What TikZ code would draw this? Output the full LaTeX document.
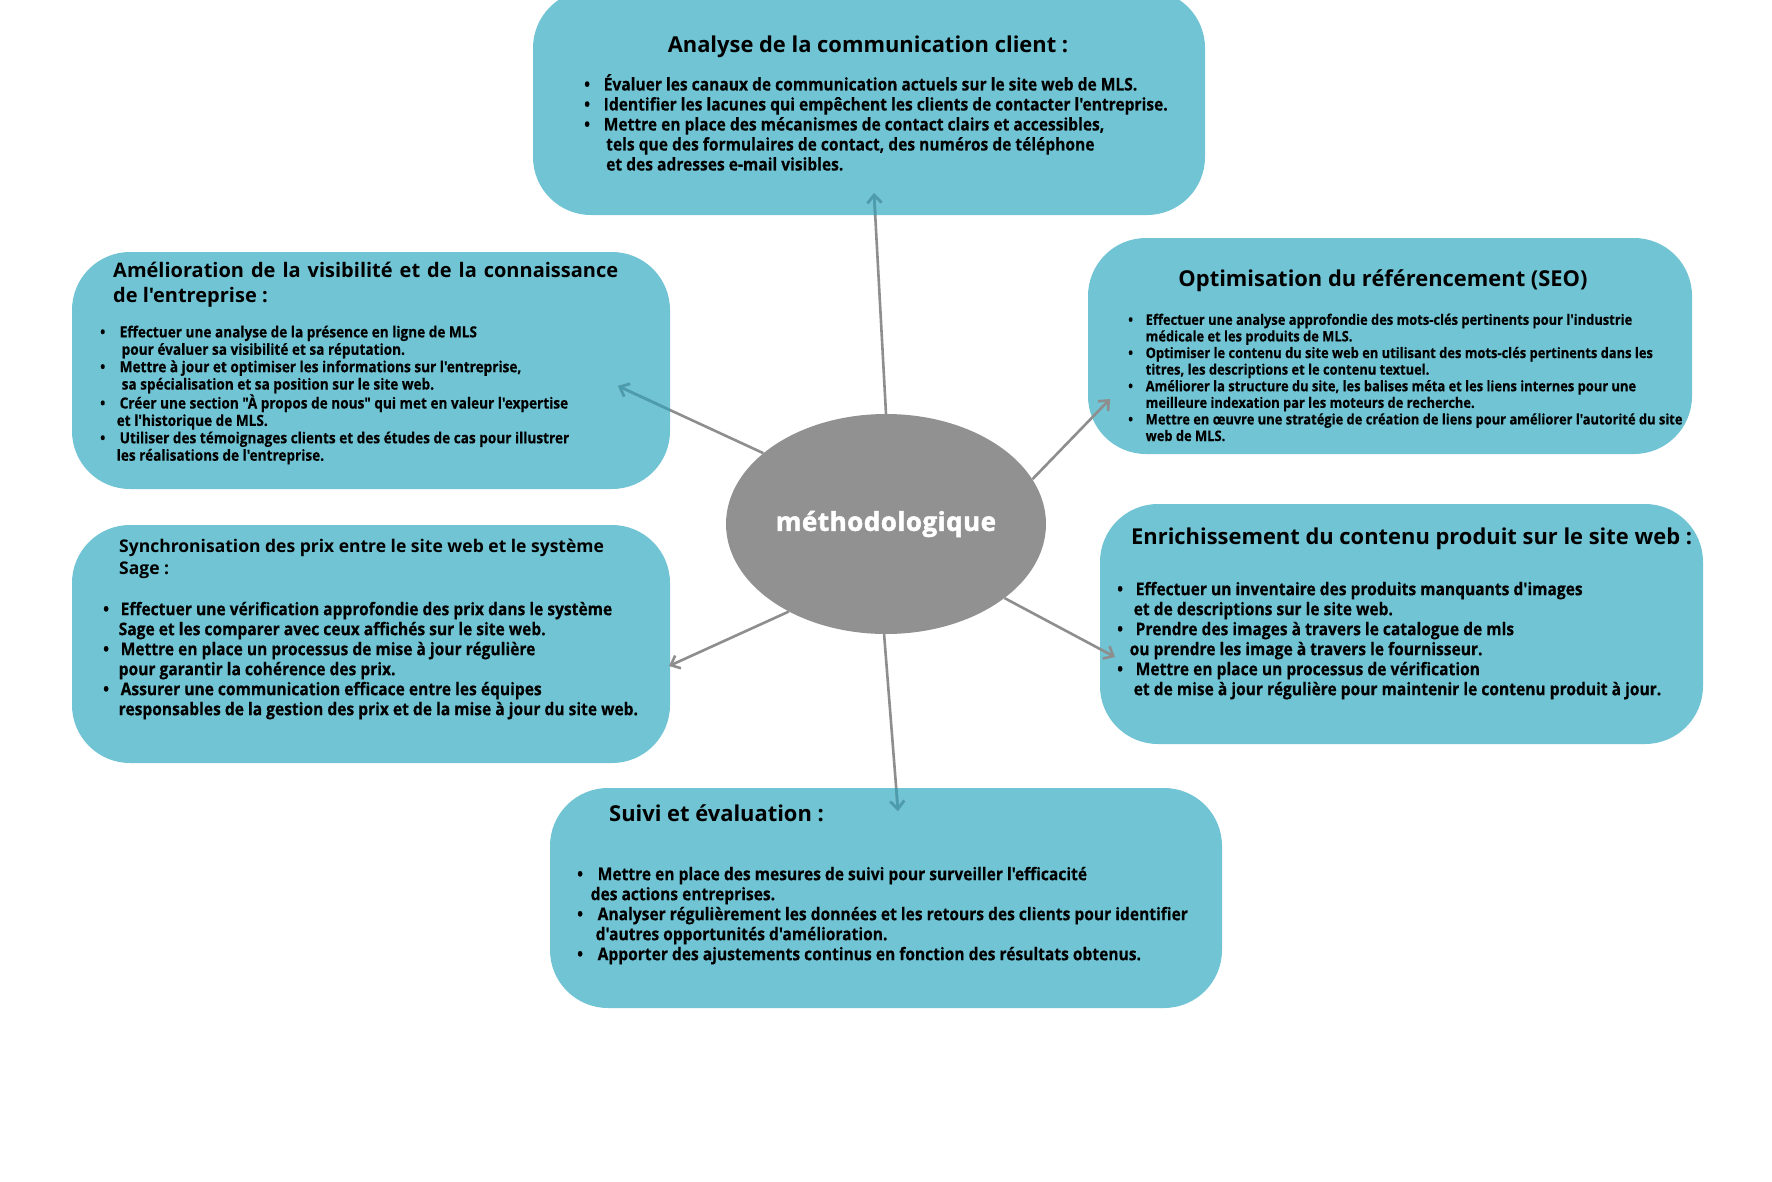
\documentclass[tikz,border=0pt]{standalone}
\usepackage{fontspec}
\setmainfont{Open Sans}[Ligatures=TeXOff]
\newfontfamily\condfont{Open Sans}[FakeStretch=0.89,FakeBold=0.4,Ligatures=TeXOff]
\newfontfamily\ellfont{Open Sans}[FakeBold=2,LetterSpace=2,Ligatures=TeXOff]
\usetikzlibrary{arrows.meta,shapes.geometric}
\definecolor{boxteal}{HTML}{70C4D4}
\definecolor{ellgray}{HTML}{919191}
\definecolor{arrgray}{HTML}{8E8E8E}
\definecolor{tealdark}{HTML}{4A9DAE}
\newcommand\bul[2]{\makebox[#1][l]{\textbullet}#2}
\tikzset{
  box/.style={fill=boxteal, rounded corners=58pt, inner sep=0pt},
  ttl/.style={inner sep=0pt, font=\bfseries\fontsize{21.9}{25}\selectfont, text=black},
  bodyA/.style={inner sep=0pt, align=left, anchor=north west, font=\condfont\bfseries\fontsize{17.5}{20}\selectfont},
  bodyB/.style={inner sep=0pt, align=left, anchor=north west, font=\condfont\bfseries\fontsize{15.3}{17.4}\selectfont},
  bodyC/.style={inner sep=0pt, align=left, anchor=north west, font=\condfont\bfseries\fontsize{14.5}{16.6}\selectfont},
  conn/.style={draw=arrgray, line width=2.6pt, -{Straight Barb[length=8pt,width=14pt]}},
  connin/.style={draw=tealdark, line width=2.6pt, -{Straight Barb[length=8pt,width=14pt]}}
}
\begin{document}
\begin{tikzpicture}[x=1pt,y=-1pt]
\useasboundingbox (0,0) rectangle (1772,1181);
\fill[white] (0,0) rectangle (1772,1181);

% boxes
\node[box, minimum width=672pt, minimum height=225pt] (top) at (869,102.5) {};
\node[box, minimum width=598pt, minimum height=237pt] (ul) at (371,370.5) {};
\node[box, minimum width=604pt, minimum height=216pt] (seo) at (1390,346) {};
\node[box, minimum width=598pt, minimum height=238pt] (ll) at (371,644) {};
\node[box, minimum width=603pt, minimum height=240pt] (rl) at (1401.5,624) {};
\node[box, minimum width=672pt, minimum height=220pt] (bot) at (886,898) {};

% centre ellipse
\node[ellipse, fill=ellgray, minimum width=320pt, minimum height=220pt, inner sep=0pt,
      font=\ellfont\bfseries\fontsize{26}{30}\selectfont, text=white] (ell) at (886,524) {méthodologique};

% titles
\node[ttl, anchor=center] (toptitle) at (868,47) {Analyse de la communication client :};
\node[ttl, anchor=north west, text width=505pt, align=justify, font=\bfseries\fontsize{20}{25}\selectfont] (ultitle) at (113,260)
  {\strut Amélioration de la visibilité et de la connaissance\linebreak de l'entreprise :};
\node[ttl, anchor=center] (seotitle) at (1383,281) {Optimisation du référencement (SEO)};
\node[ttl, anchor=north west, align=left, font=\fontsize{17.5}{22.6}\selectfont\bfseries] (lltitle) at (119,536)
  {\strut Synchronisation des prix entre le site web et le système\\Sage :};
\node[ttl, anchor=west] (rltitle) at (1131,539) {Enrichissement du contenu produit sur le site web :};
\node[ttl, anchor=west] (bottitle) at (609,813) {Suivi et évaluation :};

% bodies
\node[bodyA] (toptext) at (584,74) {\strut\bul{19.5pt}{Évaluer les canaux de communication actuels sur le site web de MLS.}\\
\bul{19.5pt}{Identifier les lacunes qui empêchent les clients de contacter l'entreprise.}\\
\bul{19.5pt}{Mettre en place des mécanismes de contact clairs et accessibles,}\\
\hspace*{22pt}tels que des formulaires de contact, des numéros de téléphone\\
\hspace*{22pt}et des adresses e-mail visibles.};

\node[bodyB] (ultext) at (100,325) {\strut\bul{19.5pt}{Effectuer une analyse de la présence en ligne de MLS}\\
\hspace*{21.5pt}pour évaluer sa visibilité et sa réputation.\\
\bul{19.5pt}{Mettre à jour et optimiser les informations sur l'entreprise,}\\
\hspace*{21.5pt}sa spécialisation et sa position sur le site web.\\
\bul{19.5pt}{Créer une section "À propos de nous" qui met en valeur l'expertise}\\
\hspace*{16.5pt}et l'historique de MLS.\\
\bul{19.5pt}{Utiliser des témoignages clients et des études de cas pour illustrer}\\
\hspace*{16.5pt}les réalisations de l'entreprise.};

\node[bodyC] (seotext) at (1128,313) {\strut\bul{17.5pt}{Effectuer une analyse approfondie des mots-clés pertinents pour l'industrie}\\
\hspace*{17.5pt}médicale et les produits de MLS.\\
\bul{17.5pt}{Optimiser le contenu du site web en utilisant des mots-clés pertinents dans les}\\
\hspace*{17.5pt}titres, les descriptions et le contenu textuel.\\
\bul{17.5pt}{Améliorer la structure du site, les balises méta et les liens internes pour une}\\
\hspace*{17.5pt}meilleure indexation par les moteurs de recherche.\\
\bul{17.5pt}{Mettre en œuvre une stratégie de création de liens pour améliorer l'autorité du site}\\
\hspace*{17.5pt}web de MLS.};

\node[bodyA] (lltext) at (103,601) {\strut\bul{17.5pt}{Effectuer une vérification approfondie des prix dans le système}\\
\hspace*{15.5pt}Sage et les comparer avec ceux affichés sur le site web.\\
\bul{17.5pt}{Mettre en place un processus de mise à jour régulière}\\
\hspace*{15.5pt}pour garantir la cohérence des prix.\\
\bul{17.5pt}{Assurer une communication efficace entre les équipes}\\
\hspace*{15.5pt}responsables de la gestion des prix et de la mise à jour du site web.};

\node[bodyA] (rltext) at (1117,581) {\strut\bul{18.5pt}{Effectuer un inventaire des produits manquants d'images}\\
\hspace*{16.5pt}et de descriptions sur le site web.\\
\bul{18.5pt}{Prendre des images à travers le catalogue de mls}\\
\hspace*{12.5pt}ou prendre les image à travers le fournisseur.\\
\bul{18.5pt}{Mettre en place un processus de vérification}\\
\hspace*{16.5pt}et de mise à jour régulière pour maintenir le contenu produit à jour.};

\node[bodyA] (bottext) at (577,866) {\strut\bul{20.5pt}{Mettre en place des mesures de suivi pour surveiller l'efficacité}\\
\hspace*{13.5pt}des actions entreprises.\\
\bul{20.5pt}{Analyser régulièrement les données et les retours des clients pour identifier}\\
\hspace*{18.5pt}d'autres opportunités d'amélioration.\\
\bul{20.5pt}{Apporter des ajustements continus en fonction des résultats obtenus.}};

% arrow ends
\coordinate (etop) at (874,193);
\coordinate (eul) at (618,386);
\coordinate (eseo) at (1110,399);
\coordinate (ell2) at (669,666);
\coordinate (erl) at (1115,657);
\coordinate (ebot) at (898,811);

\draw[conn] (ell.north) -- (etop);
\draw[conn] (ell.150) -- (eul);
\draw[conn] (ell.17) -- (eseo);
\draw[conn] (ell.222) -- (ell2);
\draw[conn] (ell.328) -- (erl);
\draw[conn] (ell.269) -- (ebot);

% parts of arrows lying over boxes appear darker teal
\begin{scope}
\clip[rounded corners=58pt] (533,-10) rectangle (1205,215);
\draw[connin] (ell.north) -- (etop);
\end{scope}
\begin{scope}
\clip[rounded corners=58pt] (72,252) rectangle (670,489);
\draw[connin] (ell.150) -- (eul);
\end{scope}
\begin{scope}
\clip[rounded corners=58pt] (550,788) rectangle (1222,1008);
\draw[connin] (ell.269) -- (ebot);
\end{scope}
\end{tikzpicture}
\end{document}
